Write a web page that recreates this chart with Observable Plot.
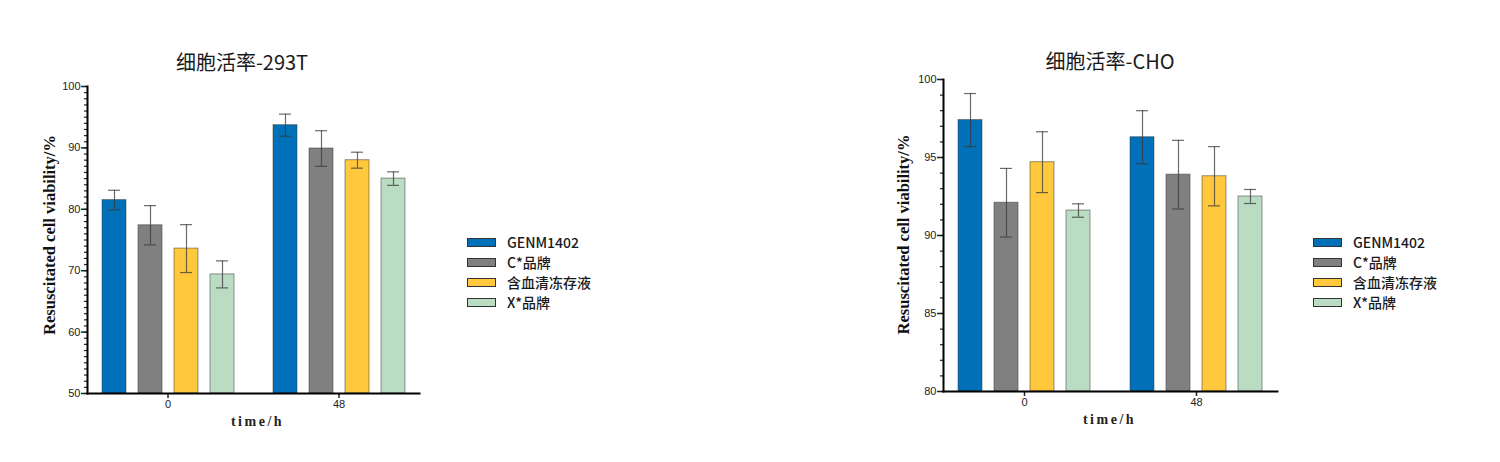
<!DOCTYPE html>
<html><head><meta charset="utf-8">
<script src="https://cdn.jsdelivr.net/npm/d3@7"></script>
<script src="https://cdn.jsdelivr.net/npm/@observablehq/plot@0.6"></script>
<style>
html,body{margin:0;padding:0;background:#fff;}
body{width:1500px;height:462px;position:relative;overflow:hidden;font-family:"Noto Sans CJK SC","Noto Sans",sans-serif;}
.chart{position:absolute;top:0;}
.title{position:absolute;transform:translate(-50%,-50%);font-size:20px;color:#1a1a1a;white-space:nowrap;line-height:1;}
.legend{position:absolute;}
.legend .row{display:flex;align-items:center;height:20px;font-size:14px;font-weight:500;color:#1a1a1a;white-space:nowrap;}
.legend .sw{width:27px;height:7px;border:1px solid #333;margin-right:11px;flex:none;}
</style></head><body>
<script>
// ---- data ----
const seriesNames = ["GENM1402", "C*品牌", "含血清冻存液", "X*品牌"];
const seriesColors = ["#0070b8", "#808080", "#ffc83d", "#b9dcc3"];
const timeLabels = ["0", "48"];
const xTitle = "time/h";
const yTitle = "Resuscitated cell viability/%";

const title293T = "细胞活率-293T";
const mean293T_0h = [81.5, 77.4, 73.6, 69.4];
const sd293T_0h = [1.6, 3.2, 3.9, 2.2];
const mean293T_48h = [93.7, 89.9, 88.0, 85.0];
const sd293T_48h = [1.8, 2.9, 1.3, 1.1];
const yTicks293T = [50, 60, 70, 80, 90, 100];

const titleCHO = "细胞活率-CHO";
const meanCHO_0h = [97.4, 92.1, 94.7, 91.6];
const sdCHO_0h = [1.7, 2.2, 1.95, 0.43];
const meanCHO_48h = [96.3, 93.9, 93.8, 92.5];
const sdCHO_48h = [1.7, 2.2, 1.9, 0.45];
const yTicksCHO = [80, 85, 90, 95, 100];

function buildRows(means, sds) {
  const rows = [];
  timeLabels.forEach((t, ti) => seriesNames.forEach((s, si) =>
    rows.push({time: t, series: s, mean: means[ti][si], sd: sds[ti][si]})));
  return rows;
}

function drawChart(cfg) {
  const data = buildRows(cfg.means, cfg.sds);
  const yMin = cfg.majorTicks[0], yMax = cfg.majorTicks[cfg.majorTicks.length - 1];
  const minor = d3.range(yMin, yMax + 1, 1);
  const errStyle = {stroke: "#3a3a3a", strokeOpacity: 0.75, strokeWidth: 1.2};
  const serif = '"Liberation Serif", "Times New Roman", serif';
  const svg = Plot.plot({
    width: cfg.width, height: 462,
    marginLeft: cfg.ml, marginRight: cfg.mr, marginTop: cfg.mt, marginBottom: cfg.mb,
    style: {fontFamily: '"Liberation Sans", Arial, sans-serif', fontSize: "11px", color: "#222", background: "transparent", overflow: "visible"},
    fx: {domain: timeLabels, paddingInner: 0.06, paddingOuter: 0, label: null},
    x: {domain: seriesNames, paddingInner: 0.34, paddingOuter: 0.37, axis: null},
    y: {domain: [yMin, yMax]},
    color: {domain: seriesNames, range: seriesColors},
    marks: [
      Plot.barY(data, {fx: "time", x: "series", y1: yMin, y2: "mean", fill: "series", stroke: "#333", strokeOpacity: 0.5, strokeWidth: 1}),
      Plot.ruleX(data, {fx: "time", x: "series", y1: d => d.mean - d.sd, y2: d => d.mean + d.sd, ...errStyle}),
      Plot.tickY(data, {fx: "time", x: "series", y: d => d.mean + d.sd, insetLeft: 6, insetRight: 6, ...errStyle}),
      Plot.tickY(data, {fx: "time", x: "series", y: d => d.mean - d.sd, insetLeft: 6, insetRight: 6, ...errStyle}),
      Plot.axisY({ticks: minor, tickSize: 3, fill: "none", label: null, strokeWidth: 1.2}),
      Plot.axisY({ticks: cfg.majorTicks, tickSize: 6, tickPadding: 1, tickFormat: d => String(d), label: null, strokeWidth: 1.5, fill: "#222"}),
      Plot.axisFx({anchor: "bottom", tickSize: 5, tickPadding: 2, label: null, fill: "#222", strokeWidth: 1.5}),
      Plot.frame({anchor: "left", facet: "super", strokeWidth: 2, stroke: "#000"}),
      Plot.frame({anchor: "bottom", facet: "super", strokeWidth: 2, stroke: "#000"}),
      Plot.text([yTitle], {text: d => d, facet: "super", frameAnchor: "left", textAnchor: "middle", rotate: -90, dx: cfg.yLabelDx, dy: cfg.yLabelDy,
        fontFamily: serif, fontWeight: "bold", fontSize: 16.5, fill: "#111"}),
      Plot.text([xTitle], {text: d => d, facet: "super", frameAnchor: "bottom", textAnchor: "middle", lineAnchor: "middle", dx: cfg.xLabelDx, dy: 28,
        fontFamily: serif, fontWeight: "bold", fontSize: 14, fill: "#222"})
    ]
  });
  svg.querySelectorAll("text").forEach(el => {
    if (el.textContent === xTitle) el.setAttribute("letter-spacing", "2.5");
  });
  const wrap = document.createElement("div");
  wrap.className = "chart";
  wrap.style.left = cfg.left + "px";
  wrap.appendChild(svg);
  document.body.appendChild(wrap);

  const t = document.createElement("div");
  t.className = "title";
  t.textContent = cfg.title;
  t.style.left = cfg.titleX + "px";
  t.style.top = cfg.titleY + "px";
  document.body.appendChild(t);

  const lg = document.createElement("div");
  lg.className = "legend";
  lg.style.left = cfg.legendX + "px";
  lg.style.top = cfg.legendY + "px";
  seriesNames.forEach((s, i) => {
    const r = document.createElement("div");
    r.className = "row";
    const sw = document.createElement("span");
    sw.className = "sw";
    sw.style.background = seriesColors[i];
    const tx = document.createElement("span");
    tx.textContent = s;
    r.appendChild(sw); r.appendChild(tx);
    lg.appendChild(r);
  });
  document.body.appendChild(lg);
}

drawChart({
  left: 0, width: 440, ml: 87, mr: 21, mt: 86, mb: 69,
  means: [mean293T_0h, mean293T_48h], sds: [sd293T_0h, sd293T_48h],
  majorTicks: yTicks293T, title: title293T, titleX: 242, titleY: 62,
  yLabelDx: -38, yLabelDy: -5, xLabelDx: 4,
  legendX: 467, legendY: 232
});
drawChart({
  left: 850, width: 450, ml: 92, mr: 23, mt: 79, mb: 71,
  means: [meanCHO_0h, meanCHO_48h], sds: [sdCHO_0h, sdCHO_48h],
  majorTicks: yTicksCHO, title: titleCHO, titleX: 1110, titleY: 61,
  yLabelDx: -40, yLabelDy: -1, xLabelDx: -1,
  legendX: 1313, legendY: 232
});
</script>
</body></html>
